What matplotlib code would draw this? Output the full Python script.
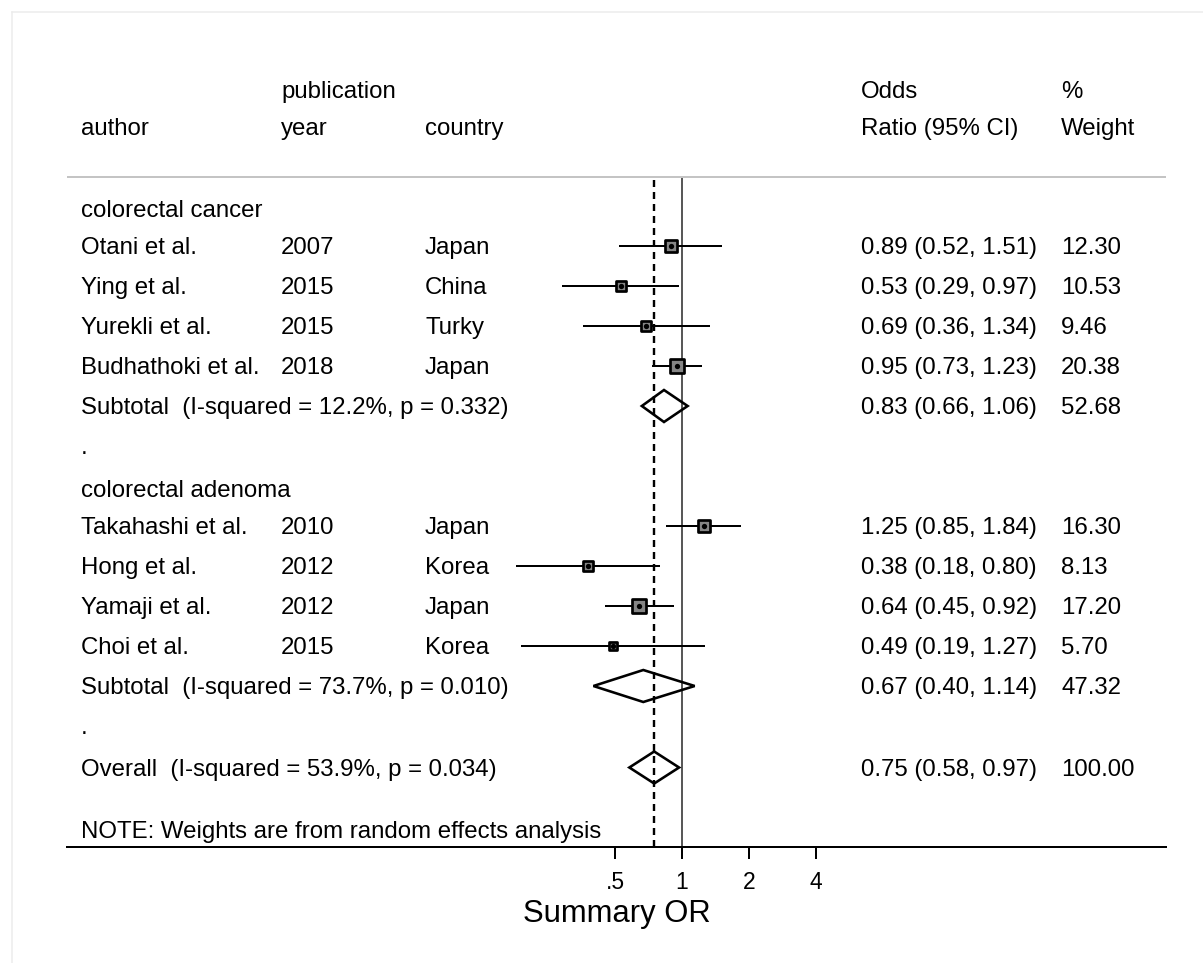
import numpy as np
import matplotlib
matplotlib.use("Agg")
import matplotlib.pyplot as plt
from matplotlib.transforms import blended_transform_factory
from matplotlib.patches import Polygon
from matplotlib.lines import Line2D

plt.rcParams['font.family'] = ['Liberation Sans', 'DejaVu Sans']
plt.rcParams['lines.scale_dashes'] = False

# ---------------- data ----------------
group_names = ["colorectal cancer", "colorectal adenoma"]

study_authors = ["Otani et al.", "Ying et al.", "Yurekli et al.", "Budhathoki et al.",
                 "Takahashi et al.", "Hong et al.", "Yamaji et al.", "Choi et al."]
study_years = [2007, 2015, 2015, 2018, 2010, 2012, 2012, 2015]
study_countries = ["Japan", "China", "Turky", "Japan", "Japan", "Korea", "Japan", "Korea"]
study_group = [0, 0, 0, 0, 1, 1, 1, 1]
study_or = [0.89, 0.53, 0.69, 0.95, 1.25, 0.38, 0.64, 0.49]
study_lo = [0.52, 0.29, 0.36, 0.73, 0.85, 0.18, 0.45, 0.19]
study_hi = [1.51, 0.97, 1.34, 1.23, 1.84, 0.80, 0.92, 1.27]
study_weight = [12.30, 10.53, 9.46, 20.38, 16.30, 8.13, 17.20, 5.70]

subtotal_or = [0.83, 0.67]
subtotal_lo = [0.66, 0.40]
subtotal_hi = [1.06, 1.14]
subtotal_weight = [52.68, 47.32]
subtotal_i2 = [12.2, 73.7]
subtotal_p = [0.332, 0.010]

overall_or = 0.75
overall_lo = 0.58
overall_hi = 0.97
overall_weight = 100.00
overall_i2 = 53.9
overall_p = 0.034

x_ticks = [0.5, 1, 2, 4]
x_tick_labels = [".5", "1", "2", "4"]
note_text = "NOTE: Weights are from random effects analysis"

# ---------------- layout (pixels) ----------------
W, H = 1203, 963
DPI = 100
PT = 72.0 / DPI            # points per pixel
AX_LEFT, AX_RIGHT, AX_BOTTOM = 67, 1166, 847
ONE_PX, PX_PER_DOUBLING = 682, 67
ROW0, STEP = 246, 40
HEADER_LINE_Y = 177
FS = 17.3
TICK_FS = 16.5
CAP_HALF = 8.4
DIAMOND_HALF = 16

COL_AUTHOR, COL_YEAR, COL_COUNTRY = 81, 281, 425
COL_OR, COL_WEIGHT = 861, 1061

fig = plt.figure(figsize=(W / DPI, H / DPI), dpi=DPI)
fig.patch.set_facecolor("white")
ax = fig.add_axes([AX_LEFT / W, (H - AX_BOTTOM) / H,
                   (AX_RIGHT - AX_LEFT) / W, AX_BOTTOM / H])
ax.set_xscale("log", base=2)
ax.set_xlim(2 ** ((AX_LEFT - ONE_PX) / PX_PER_DOUBLING),
            2 ** ((AX_RIGHT - ONE_PX) / PX_PER_DOUBLING))
ax.set_ylim(AX_BOTTOM, 0)
ax.set_facecolor("none")
for side in ("left", "right", "top"):
    ax.spines[side].set_visible(False)
ax.spines["bottom"].set_linewidth(2 * PT)
ax.set_yticks([])
ax.set_xticks(x_ticks)
ax.set_xticklabels(x_tick_labels)
ax.xaxis.set_minor_locator(matplotlib.ticker.NullLocator())
ax.tick_params(axis="x", direction="out", length=12 * PT, width=2 * PT,
               pad=8.5, labelsize=TICK_FS)
ax.set_xlabel("Summary OR", fontsize=22.3, labelpad=4)

tr = blended_transform_factory(fig.transFigure, ax.transData)


def put(xpx, ycenter, s):
    ax.text(xpx / W, ycenter + CAP_HALF, s, transform=tr, ha="left",
            va="baseline", fontsize=FS, clip_on=False)


def row_y(k):
    return ROW0 + STEP * k


# header
put(COL_YEAR, 89.5, "publication")
put(COL_OR, 89.5, "Odds")
put(COL_WEIGHT, 89.5, "%")
put(COL_AUTHOR, 126.5, "author")
put(COL_YEAR, 126.5, "year")
put(COL_COUNTRY, 126.5, "country")
put(COL_OR, 126.5, "Ratio (95% CI)")
put(COL_WEIGHT, 126.5, "Weight")
ax.axhline(HEADER_LINE_Y, color="#c4c4c4", lw=2 * PT)

# reference lines: no effect and overall estimate
ax.vlines(1, HEADER_LINE_Y, AX_BOTTOM, color="#474747", lw=1.8 * PT, zorder=1)
ax.vlines(overall_or, HEADER_LINE_Y + 3, AX_BOTTOM, color="black", lw=2.4 * PT,
          linestyle=(0, (7 * PT, 5 * PT)), zorder=1)


def diamond(est, lo, hi, y):
    poly = Polygon([(lo, y), (est, y - DIAMOND_HALF), (hi, y), (est, y + DIAMOND_HALF)],
                   closed=True, fill=False, edgecolor="black", lw=2.6 * PT,
                   joinstyle="miter", zorder=4)
    ax.add_patch(poly)


k = -1
for g, gname in enumerate(group_names):
    put(COL_AUTHOR, row_y(k) + 3, gname)
    k += 1
    for i in range(len(study_authors)):
        if study_group[i] != g:
            continue
        y = row_y(k)
        put(COL_AUTHOR, y, study_authors[i])
        put(COL_YEAR, y, str(study_years[i]))
        put(COL_COUNTRY, y, study_countries[i])
        put(COL_OR, y, f"{study_or[i]:.2f} ({study_lo[i]:.2f}, {study_hi[i]:.2f})")
        put(COL_WEIGHT, y, f"{study_weight[i]:.2f}")
        ax.hlines(y, study_lo[i], study_hi[i], color="black", lw=2 * PT, zorder=2)
        side_px = 2.83 * np.sqrt(study_weight[i]) + 4.2
        ax.scatter([study_or[i]], [y], marker="s", s=((side_px - 2.7) * PT) ** 2,
                   facecolor="#858585", edgecolor="black", linewidths=2.7 * PT, zorder=3)
        ax.scatter([study_or[i]], [y], marker="o", s=(5.3 * PT) ** 2,
                   color="black", linewidths=0, zorder=3.5)
        k += 1
    y = row_y(k)
    put(COL_AUTHOR, y, f"Subtotal  (I-squared = {subtotal_i2[g]:.1f}%, p = {subtotal_p[g]:.3f})")
    put(COL_OR, y, f"{subtotal_or[g]:.2f} ({subtotal_lo[g]:.2f}, {subtotal_hi[g]:.2f})")
    put(COL_WEIGHT, y, f"{subtotal_weight[g]:.2f}")
    diamond(subtotal_or[g], subtotal_lo[g], subtotal_hi[g], y)
    k += 1
    put(COL_AUTHOR, row_y(k), ".")
    k += 1

y = row_y(k) + 1.5
put(COL_AUTHOR, y, f"Overall  (I-squared = {overall_i2:.1f}%, p = {overall_p:.3f})")
put(COL_OR, y, f"{overall_or:.2f} ({overall_lo:.2f}, {overall_hi:.2f})")
put(COL_WEIGHT, y, f"{overall_weight:.2f}")
diamond(overall_or, overall_lo, overall_hi, y)

put(COL_AUTHOR, 830, note_text)

# faint outer frame
fig.add_artist(Line2D([12 / W, 1], [1 - 12 / H, 1 - 12 / H], color="#ececec", lw=1.5 * PT))
fig.add_artist(Line2D([12 / W, 12 / W], [0, 1 - 12 / H], color="#ececec", lw=1.5 * PT))

fig.savefig("out.png", dpi=DPI)
